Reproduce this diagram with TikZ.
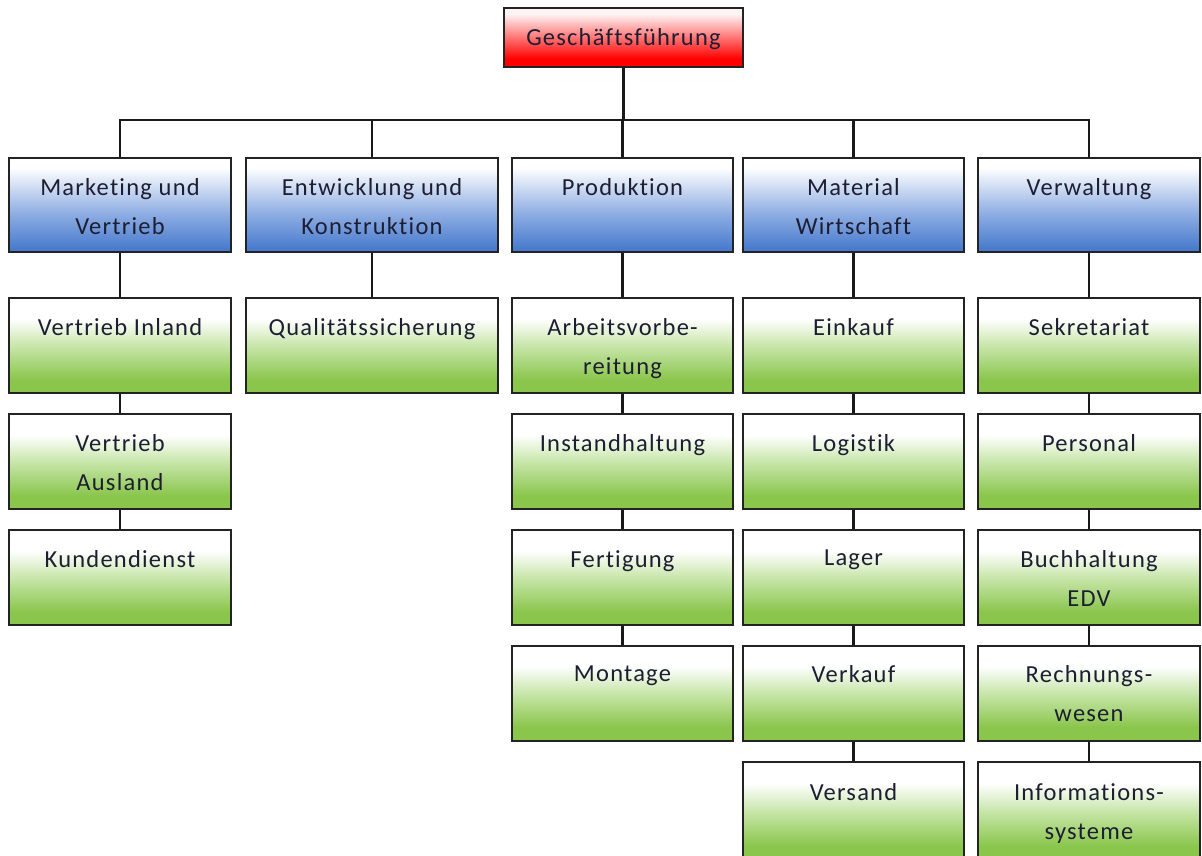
\documentclass[tikz,border=0pt]{standalone}
\usepackage{fontspec}
\setmainfont{Carlito}[LetterSpace=5, Ligatures=NoCommon]
\definecolor{boxline}{RGB}{35,35,35}
\definecolor{wire}{RGB}{25,25,25}
\definecolor{txt}{RGB}{30,30,50}
\definecolor{rbot}{RGB}{255,0,0}
\definecolor{rtop}{RGB}{255,244,244}
\definecolor{bbot}{RGB}{74,124,206}
\definecolor{bmid}{RGB}{140,172,226}
\definecolor{gbot}{RGB}{138,198,76}
\definecolor{gmid}{RGB}{200,230,170}
% vertical fades: the visible part of a 100bp shading runs from 25bp (bottom) to 75bp (top)
\pgfdeclareverticalshading{redfade}{100bp}{color(0bp)=(rbot); color(32bp)=(rbot); color(70bp)=(rtop); color(100bp)=(rtop)}
\pgfdeclareverticalshading{bluefade}{100bp}{color(0bp)=(bbot); color(27bp)=(bbot); color(45bp)=(bmid); color(70bp)=(white); color(100bp)=(white)}
\pgfdeclareverticalshading{greenfade}{100bp}{color(0bp)=(gbot); color(32bp)=(gbot); color(50bp)=(gmid); color(64bp)=(white); color(100bp)=(white)}
\tikzset{
  box/.style={rectangle, draw=boxline, line width=2pt, inner sep=0pt},
  lbl/.style={anchor=north, yshift=-21pt, align=center, inner sep=0pt, text=txt,
              font=\fontsize{24.5}{39}\selectfont},
  topbox/.style={box, shading=redfade, minimum width=239pt, minimum height=59pt},
  deptbox/.style={box, shading=bluefade, minimum height=94pt},
  unitbox/.style={box, shading=greenfade, minimum height=95pt},
  link/.style={draw=wire, line width=2.2pt}
}
\begin{document}
\begin{tikzpicture}[x=1pt, y=-1pt]
\useasboundingbox (0,0) rectangle (1202,856);

% management
\node[topbox, label={[lbl]north:Geschäftsführung}] (gf) at (623.5,37.5) {};
\coordinate (bus) at (623.5,120);

% departments
\node[deptbox, minimum width=222pt, label={[lbl]north:{Marketing und\\Vertrieb}}] (mv) at (120,205) {};
\node[deptbox, minimum width=252pt, label={[lbl]north:{Entwicklung und\\Konstruktion}}] (ek) at (372,205) {};
\node[deptbox, minimum width=221pt, label={[lbl]north:Produktion}] (pr) at (622.5,205) {};
\node[deptbox, minimum width=221pt, label={[lbl]north:{Material\\Wirtschaft}}] (mw) at (853.5,205) {};
\node[deptbox, minimum width=222pt, label={[lbl]north:Verwaltung}] (vw) at (1089,205) {};

% units: Marketing und Vertrieb
\node[unitbox, minimum width=222pt, label={[lbl]north:Vertrieb Inland}] (vi) at (120,345.5) {};
\node[unitbox, minimum width=222pt, label={[lbl]north:{Vertrieb\\Ausland}}] (va) at (120,461.5) {};
\node[unitbox, minimum width=222pt, label={[lbl]north:Kundendienst}] (kd) at (120,577.5) {};

% units: Entwicklung und Konstruktion
\node[unitbox, minimum width=252pt, label={[lbl]north:Qualitätssicherung}] (qs) at (372,345.5) {};

% units: Produktion
\node[unitbox, minimum width=221pt, label={[lbl]north:{Arbeitsvorbe-\\reitung}}] (av) at (622.5,345.5) {};
\node[unitbox, minimum width=221pt, label={[lbl]north:Instandhaltung}] (ih) at (622.5,461.5) {};
\node[unitbox, minimum width=221pt, label={[lbl]north:Fertigung}] (fe) at (622.5,577.5) {};
\node[unitbox, minimum width=221pt, label={[lbl]north:Montage}] (mo) at (622.5,693) {};

% units: Material Wirtschaft
\node[unitbox, minimum width=221pt, label={[lbl]north:Einkauf}] (ek1) at (853.5,345.5) {};
\node[unitbox, minimum width=221pt, label={[lbl]north:Logistik}] (lo) at (853.5,461.5) {};
\node[unitbox, minimum width=221pt, label={[lbl]north:Lager}] (la) at (853.5,577.5) {};
\node[unitbox, minimum width=221pt, label={[lbl]north:Verkauf}] (vk) at (853.5,693) {};
\node[unitbox, minimum width=221pt, minimum height=98pt, label={[lbl,yshift=-1.5pt]north:Versand}] (vs) at (853.5,811) {};

% units: Verwaltung
\node[unitbox, minimum width=222pt, label={[lbl]north:Sekretariat}] (se) at (1089,345.5) {};
\node[unitbox, minimum width=222pt, label={[lbl]north:Personal}] (pe) at (1089,461.5) {};
\node[unitbox, minimum width=222pt, label={[lbl]north:{Buchhaltung\\EDV}}] (bh) at (1089,577.5) {};
\node[unitbox, minimum width=222pt, label={[lbl]north:{Rechnungs-\\wesen}}] (rw) at (1089,693) {};
\node[unitbox, minimum width=222pt, minimum height=98pt, label={[lbl,yshift=-1.5pt]north:{Informations-\\systeme}}] (is) at (1089,811) {};

% connectors
\draw[link] (gf.south) -- (bus);
\foreach \d in {mv,ek,pr,mw,vw} \draw[link] (\d.north) |- (bus);
\draw[link] (mv.south) -- (vi.north);
\draw[link] (vi.south) -- (va.north);
\draw[link] (va.south) -- (kd.north);
\draw[link] (ek.south) -- (qs.north);
\draw[link] (pr.south) -- (av.north);
\draw[link] (av.south) -- (ih.north);
\draw[link] (ih.south) -- (fe.north);
\draw[link] (fe.south) -- (mo.north);
\draw[link] (mw.south) -- (ek1.north);
\draw[link] (ek1.south) -- (lo.north);
\draw[link] (lo.south) -- (la.north);
\draw[link] (la.south) -- (vk.north);
\draw[link] (vk.south) -- (vs.north);
\draw[link] (vw.south) -- (se.north);
\draw[link] (se.south) -- (pe.north);
\draw[link] (pe.south) -- (bh.north);
\draw[link] (bh.south) -- (rw.north);
\draw[link] (rw.south) -- (is.north);
\end{tikzpicture}
\end{document}
